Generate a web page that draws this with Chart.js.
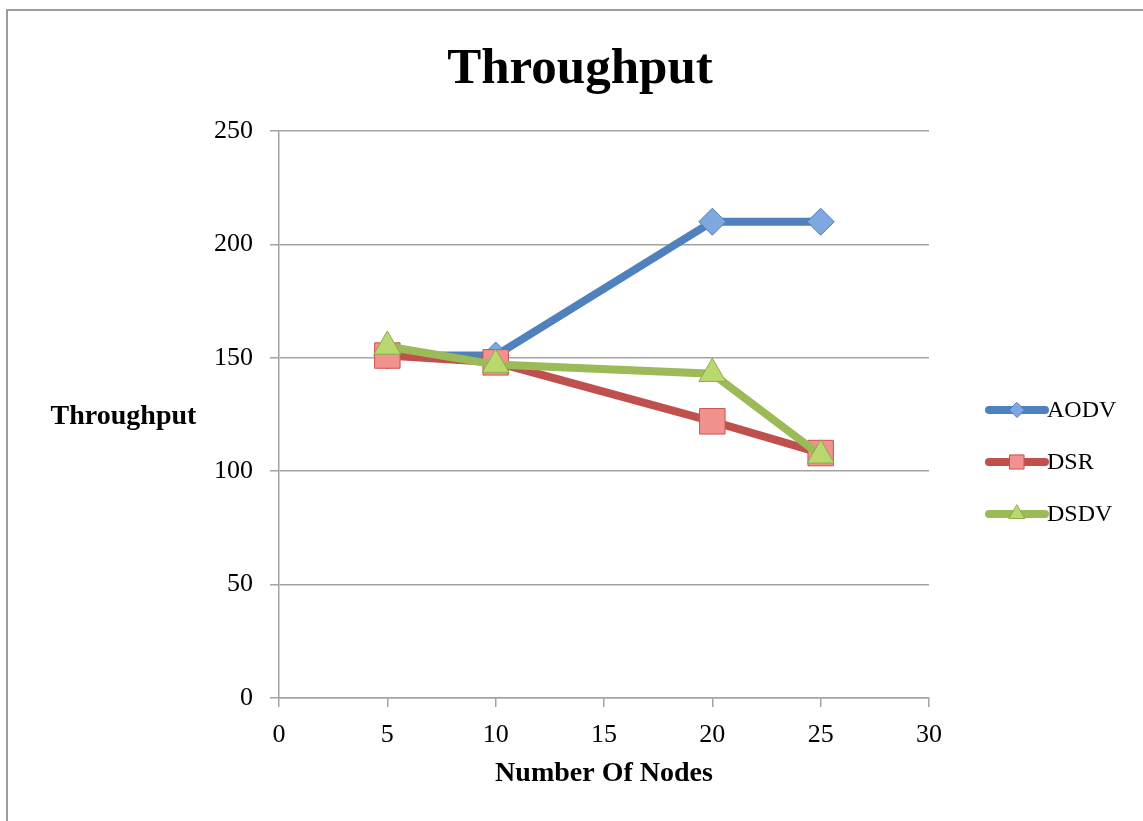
<!DOCTYPE html>
<html>
<head>
<meta charset="utf-8">
<title>Throughput</title>
<script src="https://cdn.jsdelivr.net/npm/chart.js@4.4.1/dist/chart.umd.min.js"></script>
<style>
  html, body { margin: 0; padding: 0; background: #ffffff; }
  canvas { display: block; }
</style>
</head>
<body>
<canvas id="chart" width="1143" height="821"></canvas>
<script>
// Throughput per routing protocol against number of nodes
const nodeCounts = [5, 10, 20, 25];
const aodvValues = [151, 151, 210, 210];
const dsrValues = [151, 148, 122, 108];
const dsdvValues = [155, 147, 143, 107];
const seriesNames = ['AODV', 'DSR', 'DSDV'];
const xTickValues = [0, 5, 10, 15, 20, 25, 30];
const yTickValues = [0, 50, 100, 150, 200, 250];
const chartTitle = 'Throughput';
const xAxisTitle = 'Number Of Nodes';
const yAxisTitle = 'Throughput';

const SERIF = "'Liberation Serif', 'Times New Roman', serif";
const GRID = '#a3a3a3';

const styles = [
  { line: '#4f81bd', fill: '#80a8e0', edge: '#4a7cc0', shape: 'rectRot', radius: 13.5, legendRadius: 7.5 },
  { line: '#c0504d', fill: '#f2928e', edge: '#c9524e', shape: 'rect', radius: 18, legendRadius: 10 },
  { line: '#9bbb59', fill: '#b9d870', edge: '#8cab4c', shape: 'triangle', radius: 15.5, legendRadius: 9 }
];
const seriesValues = [aodvValues, dsrValues, dsdvValues];

function toPoints(values) {
  return nodeCounts.map((n, i) => ({ x: n, y: values[i] }));
}

const datasets = seriesNames.map((name, i) => ({
  label: name,
  data: toPoints(seriesValues[i]),
  borderColor: styles[i].line,
  borderWidth: 8,
  pointStyle: styles[i].shape,
  pointRadius: styles[i].radius,
  pointHoverRadius: styles[i].radius,
  pointBackgroundColor: styles[i].fill,
  pointBorderColor: styles[i].edge,
  pointBorderWidth: 1,
  tension: 0,
  fill: false,
  // later series sit on top
  order: seriesNames.length - 1 - i
}));

function markerPath(ctx, shape, x, y, r) {
  ctx.beginPath();
  if (shape === 'rectRot') {
    ctx.moveTo(x, y - r); ctx.lineTo(x + r, y); ctx.lineTo(x, y + r); ctx.lineTo(x - r, y);
  } else if (shape === 'rect') {
    const h = r * Math.SQRT1_2;
    ctx.rect(x - h, y - h, 2 * h, 2 * h);
  } else {
    const s = Math.sin(Math.PI / 3) * r;
    ctx.moveTo(x, y - r); ctx.lineTo(x + s, y + r / 2); ctx.lineTo(x - s, y + r / 2);
  }
  ctx.closePath();
}

const framePlugin = {
  id: 'frame',
  beforeDraw(chart) {
    const ctx = chart.ctx;
    ctx.save();
    ctx.fillStyle = '#ffffff';
    ctx.fillRect(0, 0, chart.width, chart.height);
    ctx.strokeStyle = '#9c9c9c';
    ctx.lineWidth = 2;
    ctx.beginPath();
    ctx.moveTo(7, chart.height);
    ctx.lineTo(7, 10);
    ctx.lineTo(chart.width, 10);
    ctx.stroke();
    ctx.restore();
  }
};

const sideTextPlugin = {
  id: 'sideText',
  afterDraw(chart) {
    const ctx = chart.ctx;
    const area = chart.chartArea;
    ctx.save();
    ctx.fillStyle = '#000000';

    // chart title, centred over the whole frame
    ctx.font = `bold 51px ${SERIF}`;
    ctx.textAlign = 'center';
    ctx.textBaseline = 'alphabetic';
    ctx.fillText(chartTitle, 580, 83);

    // horizontal y-axis title
    ctx.font = `bold 28px ${SERIF}`;
    ctx.textBaseline = 'middle';
    ctx.fillText(yAxisTitle, 123.5, (area.top + area.bottom) / 2 + 2.5);

    // legend: line sample with marker, then series name
    const x0 = area.right + 60;
    const x1 = area.right + 116;
    const xm = (x0 + x1) / 2;
    chart.data.datasets.forEach((ds, i) => {
      const y = area.top + 279 + i * 52;
      const st = styles[i];
      ctx.strokeStyle = st.line;
      ctx.lineWidth = 8;
      ctx.lineCap = 'round';
      ctx.beginPath();
      ctx.moveTo(x0, y);
      ctx.lineTo(x1, y);
      ctx.stroke();
      markerPath(ctx, st.shape, xm, y, st.legendRadius);
      ctx.fillStyle = st.fill;
      ctx.fill();
      ctx.lineWidth = 1;
      ctx.strokeStyle = st.edge;
      ctx.stroke();
      ctx.fillStyle = '#000000';
      ctx.font = `24px ${SERIF}`;
      ctx.textAlign = 'left';
      ctx.fillText(ds.label, x1 + 2, y + 1);
    });
    ctx.restore();
  }
};

new Chart(document.getElementById('chart'), {
  type: 'line',
  data: { datasets },
  plugins: [framePlugin, sideTextPlugin],
  options: {
    responsive: false,
    animation: false,
    events: [],
    layout: { padding: { left: 0, right: 214, top: 131, bottom: 0 } },
    plugins: {
      legend: { display: false },
      tooltip: { enabled: false },
      title: { display: false }
    },
    scales: {
      x: {
        type: 'linear',
        min: 0,
        max: 30,
        afterFit(scale) { scale.height = 123; },
        afterBuildTicks(scale) { scale.ticks = xTickValues.map(v => ({ value: v })); },
        grid: { display: true, drawOnChartArea: false, drawTicks: true, tickLength: 9, color: GRID, lineWidth: 1.5 },
        border: { display: true, color: GRID, width: 1.5 },
        ticks: { color: '#000000', padding: 13, font: { family: SERIF, size: 26 } },
        title: {
          display: true,
          text: xAxisTitle,
          color: '#000000',
          font: { family: SERIF, size: 28, weight: 'bold' },
          padding: { top: 0, bottom: 30 }
        }
      },
      y: {
        type: 'linear',
        min: 0,
        max: 250,
        afterFit(scale) { scale.width = 279; },
        afterBuildTicks(scale) { scale.ticks = yTickValues.map(v => ({ value: v })); },
        grid: { display: true, drawOnChartArea: true, drawTicks: true, tickLength: 9, color: GRID, lineWidth: 1.5 },
        border: { display: true, color: GRID, width: 1.5 },
        ticks: { color: '#000000', padding: 17, font: { family: SERIF, size: 26 } }
      }
    }
  }
});
</script>
</body>
</html>
